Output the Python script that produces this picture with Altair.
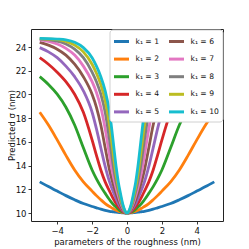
import altair as alt
import pandas as pd

# x positions (right half; the picture is mirror-symmetric about x = 0)
x_right = [0, 0.125, 0.25, 0.375, 0.5, 0.625, 0.75, 0.875, 1, 1.25, 1.5, 1.75, 2, 2.5, 3, 3.5, 4, 4.5, 5]

k1 = [10, 10.0, 10.02, 10.03, 10.05, 10.07, 10.1, 10.12, 10.15, 10.23, 10.33, 10.44, 10.55, 10.8, 11.12, 11.47, 11.85, 12.23, 12.63]
k2 = [10, 10.02, 10.05, 10.1, 10.15, 10.23, 10.33, 10.44, 10.55, 10.8, 11.12, 11.47, 11.85, 12.63, 13.63, 14.86, 16.17, 17.42, 18.5]
k3 = [10, 10.03, 10.1, 10.17, 10.33, 10.5, 10.67, 10.88, 11.12, 11.66, 12.23, 12.88, 13.63, 15.5, 17.42, 18.92, 20.02, 20.84, 21.5]
k4 = [10, 10.05, 10.15, 10.33, 10.55, 10.8, 11.12, 11.47, 11.85, 12.63, 13.63, 14.86, 16.17, 18.5, 20.02, 21.08, 21.88, 22.55, 23.1]
k5 = [10, 10.07, 10.23, 10.5, 10.8, 11.2, 11.66, 12.13, 12.63, 13.93, 15.5, 17.1, 18.5, 20.31, 21.5, 22.39, 23.1, 23.59, 23.95]
k6 = [10, 10.1, 10.33, 10.67, 11.12, 11.66, 12.23, 12.88, 13.63, 15.5, 17.42, 18.92, 20.02, 21.5, 22.55, 23.32, 23.82, 24.16, 24.4]
k7 = [10, 10.12, 10.44, 10.88, 11.47, 12.13, 12.88, 13.78, 14.86, 17.1, 18.92, 20.17, 21.08, 22.39, 23.32, 23.89, 24.25, 24.47, 24.6]
k8 = [10, 10.15, 10.55, 11.12, 11.85, 12.63, 13.63, 14.86, 16.17, 18.5, 20.02, 21.08, 21.88, 23.1, 23.82, 24.25, 24.49, 24.62, 24.67]
k9 = [10, 10.18, 10.67, 11.38, 12.23, 13.25, 14.55, 16.0, 17.42, 19.5, 20.84, 21.79, 22.55, 23.59, 24.16, 24.47, 24.62, 24.67, 24.71]
k10 = [10, 10.23, 10.8, 11.66, 12.63, 13.93, 15.5, 17.1, 18.5, 20.31, 21.5, 22.39, 23.1, 23.95, 24.4, 24.6, 24.67, 24.71, 24.73]

labels = ["k₁ = 1", "k₁ = 2", "k₁ = 3", "k₁ = 4", "k₁ = 5",
          "k₁ = 6", "k₁ = 7", "k₁ = 8", "k₁ = 9", "k₁ = 10"]
colors = ["#1f77b4", "#ff7f0e", "#2ca02c", "#d62728", "#9467bd",
          "#8c564b", "#e377c2", "#7f7f7f", "#bcbd22", "#17becf"]
series = [k1, k2, k3, k4, k5, k6, k7, k8, k9, k10]

rows = []
for i, (lab, ys) in enumerate(zip(labels, series)):
    xs = [-v for v in reversed(x_right[1:])] + x_right
    yv = list(reversed(ys[1:])) + ys
    for xv, yvv in zip(xs, yv):
        rows.append({"x": xv, "y": yvv, "series": lab, "idx": i})
df = pd.DataFrame(rows)

chart = alt.Chart(df).mark_line(strokeWidth=2.8, interpolate="monotone", clip=True).encode(
    x=alt.X("x:Q", scale=alt.Scale(domain=[-5.5, 5.5], nice=False, zero=False),
            axis=alt.Axis(values=[-4, -2, 0, 2, 4], title="parameters of the roughness (nm)",
                          labelExpr="datum.value < 0 ? '−' + abs(datum.value) : datum.label")),
    y=alt.Y("y:Q", scale=alt.Scale(domain=[9.33, 25.52], nice=False, zero=False),
            axis=alt.Axis(values=[10, 12, 14, 16, 18, 20, 22, 24], title="Predicted σ (nm)",
                          titleX=-19.5, titleBaseline="middle")),
    color=alt.Color("series:N", scale=alt.Scale(domain=labels, range=colors),
                    legend=alt.Legend(title=None, orient="none", legendX=78.5, legendY=0.5,
                                      columns=2, columnPadding=3, rowPadding=2.6,
                                      symbolType="stroke", symbolSize=225, symbolStrokeWidth=3,
                                      labelFontSize=7.6, labelFont="DejaVu Sans", labelColor="#111",
                                      padding=3, fillColor="white", strokeColor="#d0d0d0",
                                      cornerRadius=3, labelOffset=5)),
    detail="idx:O",
).properties(
    width=192, height=192,
    autosize=alt.AutoSizeParams(type="none"),
    padding={"left": 23, "top": 21, "right": 18, "bottom": 28},
).configure_view(
    stroke="#222", strokeWidth=1
).configure_axis(
    domain=False, grid=False, tickColor="#222", tickSize=3, tickWidth=0.9,
    labelFont="DejaVu Sans", labelFontSize=8.5, labelColor="#111", labelPadding=2,
    titleFont="DejaVu Sans", titleFontSize=8.5, titleFontWeight="normal", titleColor="#111",
    titlePadding=3
)

chart.save("out.html", embed_options={"renderer": "svg", "actions": False})
